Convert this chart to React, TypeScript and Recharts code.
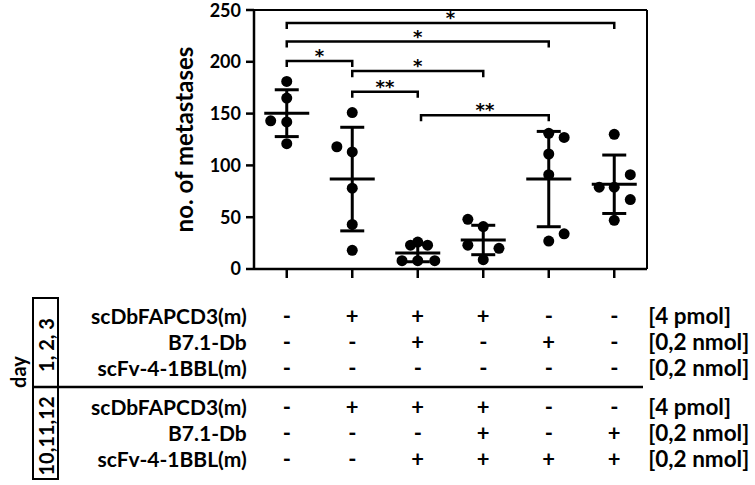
import React from 'react';
import {
  ComposedChart,
  XAxis,
  YAxis,
  Scatter,
  Line,
  ErrorBar,
  ReferenceLine,
  Customized,
} from 'recharts';

// ---------------- data ----------------
const categories = [1, 2, 3, 4, 5, 6];
const yTicks = [0, 50, 100, 150, 200, 250];

// individual animals per group (no. of metastases)
const pointValues = [
  [181, 165, 143, 142, 121],
  [151, 118, 113, 78, 43, 18],
  [23, 26, 23, 8, 8, 8],
  [48, 41, 23, 20, 9],
  [131, 127, 111, 91, 34, 27],
  [130, 91, 79, 79, 67, 47],
];
// horizontal jitter of each point (in category units)
const pointJitter = [
  [0, 0, -0.245, 0, 0],
  [0, -0.235, 0, 0, 0, 0],
  [-0.11, 0, 0.15, -0.24, 0, 0.26],
  [-0.235, 0, -0.235, 0.24, 0],
  [0, 0.235, 0, 0, 0.235, 0],
  [0, 0.245, -0.23, 0, 0.245, 0],
];
const means = [150.4, 86.8, 15.5, 28, 86.8, 81.8];
const sds = [22.6, 50, 8.5, 14.2, 46, 28.2];

// significance brackets
const bracketFrom = [1, 1, 1, 2, 2, 3.05];
const bracketTo = [6, 5, 2, 4, 3, 5];
const bracketY = [237.5, 219.5, 200.7, 191, 171, 148.5];
const bracketLabel = ['*', '*', '*', '*', '**', '**'];
const bracketTip = 5.8;

// treatment table
const dayGroups = ['1, 2, 3', '10,11,12'];
const rowLabels = [
  'scDbFAPCD3(m)',
  'B7.1-Db',
  'scFv-4-1BBL(m)',
  'scDbFAPCD3(m)',
  'B7.1-Db',
  'scFv-4-1BBL(m)',
];
const rowUnits = ['[4 pmol]', '[0,2 nmol]', '[0,2 nmol]', '[4 pmol]', '[0,2 nmol]', '[0,2 nmol]'];
const rowSigns = [
  ['-', '+', '+', '+', '-', '-'],
  ['-', '-', '+', '-', '+', '-'],
  ['-', '-', '-', '-', '-', '-'],
  ['-', '+', '+', '+', '-', '-'],
  ['-', '-', '-', '+', '-', '+'],
  ['-', '-', '+', '+', '+', '+'],
];

// ---------------- derived tables ----------------
const points = pointValues.flatMap((vals, g) =>
  vals.map((v, k) => ({ x: categories[g] + pointJitter[g][k], y: v }))
);
const meanData = categories.map((c, i) => ({ x: c, y: means[i], sd: sds[i] }));
const bracketData = bracketFrom.map((f, i) => [
  { x: f, y: bracketY[i] - bracketTip },
  { x: f, y: bracketY[i] },
  { x: bracketTo[i], y: bracketY[i] },
  { x: bracketTo[i], y: bracketY[i] - bracketTip },
]);
const starData = bracketFrom.map((f, i) => ({
  x: (f + bracketTo[i]) / 2,
  y: bracketY[i],
  label: bracketLabel[i],
}));
const rowAnchor = categories.map((c) => ({ x: c, y: 0 }));

const FONT = 'Lato, "Open Sans", sans-serif';

const Dot = (p: any) => <circle cx={p.cx} cy={p.cy} r={5.5} fill="#000" />;
const Empty = () => <g />;
const MeanBar = (p: any) => (
  <line x1={p.cx - 22.5} x2={p.cx + 22.5} y1={p.cy} y2={p.cy} stroke="#000" strokeWidth={3} />
);
const Star = (p: any) => (
  <text
    x={p.cx}
    y={p.cy + 1}
    textAnchor="middle"
    fontSize={18}
    fontWeight={700}
    fontFamily='"DejaVu Sans", sans-serif'
    fill="#000"
    stroke="none"
  >
    {p.payload.label}
  </text>
);

const makeRowTick = (r: number, dy: number) => (props: any) => {
  const { x, y, payload } = props;
  const i = Math.round(payload.value) - 1;
  const common = {
    fontWeight: 700,
    fontFamily: FONT,
    fill: '#000',
    dominantBaseline: 'central' as const,
  };
  return (
    <g>
      <text x={x} y={y + dy} textAnchor="middle" fontSize={22} {...common}>
        {rowSigns[r][i]}
      </text>
      {i === 0 && (
        <text x={x - 40} y={y + dy} textAnchor="end" fontSize={21} {...common}>
          {rowLabels[r]}
        </text>
      )}
      {i === categories.length - 1 && (
        <text x={x + 34} y={y + dy} textAnchor="start" fontSize={22.5} {...common}>
          {rowUnits[r]}
        </text>
      )}
    </g>
  );
};

const rowHeights = [26, 26, 26, 39, 26, 26];
const rowDy = [12, 12, 12, 25, 12, 12];

const TableDecor = () => {
  const t = { fontWeight: 700, fontFamily: FONT, fill: '#000', fontSize: 20 };
  return (
    <g>
      <rect x={33} y={298} width={25} height={89} fill="none" stroke="#000" strokeWidth={2} />
      <rect x={33} y={387} width={25} height={92} fill="none" stroke="#000" strokeWidth={2} />
      <line x1={33} x2={643} y1={387} y2={387} stroke="#000" strokeWidth={2.5} />
      <text
        x={46}
        y={345}
        transform="rotate(-90 46 345)"
        textAnchor="middle"
        dominantBaseline="central"
        {...t}
      >
        {dayGroups[0]}
      </text>
      <text
        x={46}
        y={436}
        transform="rotate(-90 46 436)"
        textAnchor="middle"
        dominantBaseline="central"
        {...t}
      >
        {dayGroups[1]}
      </text>
      <text
        x={18}
        y={372}
        transform="rotate(-90 18 372)"
        textAnchor="middle"
        dominantBaseline="central"
        {...t}
      >
        day
      </text>
    </g>
  );
};

export default function App() {
  return (
    <div style={{ position: 'absolute', left: 0, top: 0, width: 755, height: 485, background: '#fff', fontFamily: FONT }}>
      <ComposedChart
        width={755}
        height={485}
        margin={{ top: 10, right: 108, bottom: 13, left: 174 }}
      >
        <XAxis
          xAxisId="x0"
          type="number"
          dataKey="x"
          domain={[0.5, 6.5]}
          allowDataOverflow
          ticks={categories}
          tickFormatter={() => ''}
          tickSize={9}
          height={34}
          axisLine={{ stroke: '#000', strokeWidth: 2.5 }}
          tickLine={{ stroke: '#000', strokeWidth: 2.5 }}
        />
        {rowSigns.map((_, r) => (
          <XAxis
            key={r}
            xAxisId={`x${r + 1}`}
            type="number"
            dataKey="x"
            domain={[0.5, 6.5]}
            allowDataOverflow
            ticks={categories}
            tickSize={0}
            tickMargin={0}
            height={rowHeights[r]}
            axisLine={false}
            tickLine={false}
            tick={makeRowTick(r, rowDy[r])}
            interval={0}
          />
        ))}
        <YAxis
          type="number"
          dataKey="y"
          domain={[0, 250]}
          ticks={yTicks}
          allowDataOverflow
          width={80}
          tickSize={8}
          tickMargin={5}
          axisLine={{ stroke: '#000', strokeWidth: 2.5 }}
          tickLine={{ stroke: '#000', strokeWidth: 2.5 }}
          tick={{ fill: '#000', fontSize: 18, fontWeight: 700, fontFamily: FONT }}
          label={{
            value: 'no. of metastases',
            angle: -90,
            position: 'insideLeft',
            offset: 10,
            style: { textAnchor: 'middle', fontSize: 24, fontWeight: 700, fontFamily: FONT, fill: '#000' },
          }}
        />
        <ReferenceLine xAxisId="x0" y={250} stroke="#000" strokeWidth={2} />
        <ReferenceLine xAxisId="x0" x={6.5} stroke="#000" strokeWidth={2} />
        {rowSigns.map((_, r) => (
          <Scatter
            key={`anchor${r}`}
            xAxisId={`x${r + 1}`}
            data={rowAnchor}
            shape={Empty}
            isAnimationActive={false}
          />
        ))}
        {bracketData.map((d, i) => (
          <Line
            key={i}
            xAxisId="x0"
            data={d}
            dataKey="y"
            type="linear"
            stroke="#000"
            strokeWidth={2.5}
            dot={false}
            activeDot={false}
            isAnimationActive={false}
          />
        ))}
        <Scatter xAxisId="x0" data={starData} shape={Star} isAnimationActive={false} />
        <Scatter xAxisId="x0" data={points} shape={Dot} isAnimationActive={false} />
        <Scatter xAxisId="x0" data={meanData} shape={MeanBar} isAnimationActive={false}>
          <ErrorBar dataKey="sd" direction="y" width={12} stroke="#000" strokeWidth={3} />
        </Scatter>
        <Customized component={TableDecor} />
      </ComposedChart>
    </div>
  );
}
